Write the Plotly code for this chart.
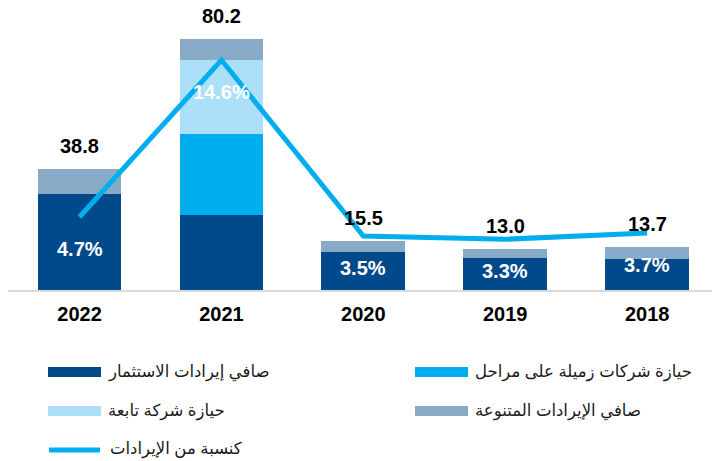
import plotly.graph_objects as go

years = ["2022", "2021", "2020", "2019", "2018"]
investment_income = [30.8, 24.1, 12.3, 10.2, 9.9]
associate_step = [0, 25.7, 0, 0, 0]
subsidiary_acq = [0, 23.7, 0, 0, 0]
other_income = [8.0, 6.7, 3.2, 2.8, 3.8]
totals = [38.8, 80.2, 15.5, 13.0, 13.7]
pct_of_revenue = [4.7, 14.6, 3.5, 3.3, 3.7]
pct_labels = ["4.7%", "14.6%", "3.5%", "3.3%", "3.7%"]
total_labels = ["38.8", "80.2", "15.5", "13.0", "13.7"]

names = ["صافي إيرادات الاستثمار", "حيازة شركات زميلة على مراحل",
         "حيازة شركة تابعة", "صافي الإيرادات المتنوعة", "كنسبة من الإيرادات"]
colors = ["#00498A", "#00AEEF", "#ABE0F8", "#88AAC6", "#00AEEF"]

W, H = 712, 461
ML, MR, MT, MB = 8, 0, 0, 171
PW, PH = W - ML - MR, H - MT - MB

FONT = "Liberation Sans, Arial, DejaVu Sans, sans-serif"

fig = go.Figure()
for vals, nm, col in zip([investment_income, associate_step, subsidiary_acq, other_income], names[:4], colors[:4]):
    fig.add_trace(go.Bar(x=years, y=vals, name=nm, marker=dict(color=col, line=dict(width=0)),
                         showlegend=False))

fig.add_trace(go.Scatter(x=years, y=pct_of_revenue, name=names[4], mode="lines",
                         line=dict(color=colors[4], width=5), yaxis="y2", showlegend=False))

# total labels above bars (category index positions)
for i, (t, lab) in enumerate(zip(totals, total_labels)):
    fig.add_annotation(x=i, y=t, xref="x", yref="y", text=lab, showarrow=False,
                       yanchor="middle", yshift=23,
                       font=dict(family=FONT, size=20, color="#000000", weight="bold"))

# percent labels below line points
for i, (p, lab) in enumerate(zip(pct_of_revenue, pct_labels)):
    fig.add_annotation(x=i, y=p, xref="x", yref="y2", text=lab, showarrow=False,
                       yanchor="middle", yshift=-32,
                       font=dict(family=FONT, size=20, color="#FFFFFF", weight="bold"))

# custom legend
def px_x(px):
    return (px - ML) / PW

def px_y(py):
    return (MT + PH - py) / PH

legend_items = [
    (0, 48, 372), (1, 415, 372),
    (2, 48, 411), (3, 415, 411),
    (4, 47, 449),
]
for idx, x0, yc in legend_items:
    if idx < 4:
        fig.add_shape(type="rect", xref="paper", yref="paper",
                      x0=px_x(x0), x1=px_x(x0 + 53), y0=px_y(yc - 5), y1=px_y(yc + 5),
                      fillcolor=colors[idx], line=dict(width=0))
        tx = x0 + 58
    else:
        fig.add_shape(type="line", xref="paper", yref="paper",
                      x0=px_x(x0 + 2), x1=px_x(x0 + 53), y0=px_y(yc + 1), y1=px_y(yc + 1),
                      line=dict(color=colors[idx], width=5))
        tx = x0 + 61
    fig.add_annotation(x=px_x(tx), y=px_y(yc), xref="paper", yref="paper", text=names[idx],
                       showarrow=False, xanchor="left", yanchor="middle",
                       font=dict(family=FONT, size=16.5, color="#1a1a1a"))

fig.update_layout(
    width=W, height=H,
    margin=dict(l=ML, r=MR, t=MT, b=MB),
    barmode="stack", bargap=0.41,
    plot_bgcolor="white", paper_bgcolor="white",
    xaxis=dict(type="category", categoryorder="array", categoryarray=years,
               range=[-0.504, 4.457], showgrid=False, showline=True,
               linecolor="#D9D9D9", linewidth=2, ticks="", ticklabelstandoff=5,
               tickfont=dict(family=FONT, size=20, color="#000000", weight="bold")),
    yaxis=dict(range=[0, 290 / 3.13], visible=False, showgrid=False, zeroline=False),
    yaxis2=dict(range=[0.1, 0.1 + 290 / 15.86], overlaying="y", visible=False,
                showgrid=False, zeroline=False),
    showlegend=False,
)

fig.write_html("out.html", config={"displayModeBar": False},
               post_script="document.body.style.margin='0';")
